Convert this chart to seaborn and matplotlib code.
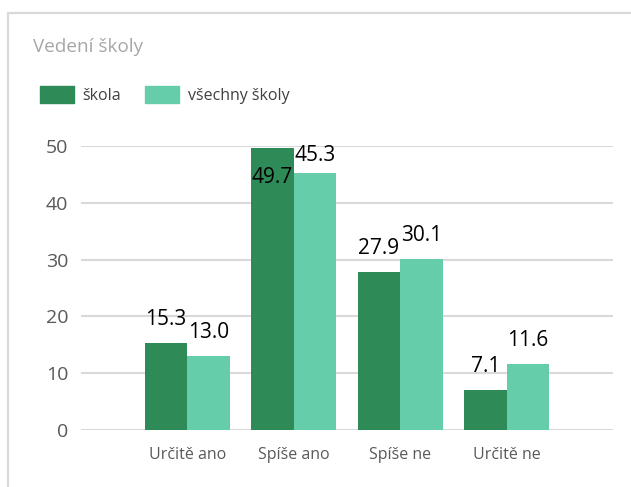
import pandas as pd
import seaborn as sns
import matplotlib.pyplot as plt
from matplotlib.patches import Rectangle
from matplotlib.lines import Line2D

categories = ["Určitě ano", "Spíše ano", "Spíše ne", "Určitě ne"]
series_names = ["škola", "všechny školy"]
skola = [15.3, 49.7, 27.9, 7.1]
vsechny = [13.0, 45.3, 30.1, 11.6]
yticks = [0, 10, 20, 30, 40, 50]

palette = ["#2E8B57", "#66CDAA"]
grid_col = "#d9d9d9"
text_col = "#595959"

df = pd.DataFrame({
    "Kategorie": categories * 2,
    "Hodnota": skola + vsechny,
    "Série": [series_names[0]] * 4 + [series_names[1]] * 4,
})

sns.set_theme(style="white")
plt.rcParams["font.family"] = ["Open Sans", "DejaVu Sans"]

fig = plt.figure(figsize=(6.31, 4.87), dpi=100)
ax = fig.add_axes([81 / 631, 1 - 430 / 487, (613 - 81) / 631, (430 - 146) / 487])

sns.barplot(data=df, x="Kategorie", y="Hodnota", hue="Série", palette=palette,
            width=0.8, gap=0, linewidth=0, saturation=1, ax=ax, legend=True)

ax.set_xlim(-1, 4)
ax.set_ylim(0, 50)
ax.set_yticks(yticks)
ax.set_xlabel("")
ax.set_ylabel("")
for s in ax.spines.values():
    s.set_visible(False)
ax.grid(False)
for t in yticks:
    ax.axhline(t, color=grid_col, lw=1.5, zorder=0)
ax.tick_params(axis="y", length=0, pad=9, labelsize=14, labelcolor=text_col)
ax.tick_params(axis="x", length=0, pad=12, labelsize=11.5, labelcolor=text_col)

# value labels (clamped inside the plot area like the original)
fig.canvas.draw()
px_per_unit = ax.bbox.height / 50.0
off = 18 / px_per_unit
txt_h = 15 / px_per_unit
for cont in ax.containers:
    for bar in cont:
        v = bar.get_height()
        xc = bar.get_x() + bar.get_width() / 2
        if v + txt_h > 50:
            ax.text(xc, v - 19 / px_per_unit, f"{v:.1f}", ha="center", va="top",
                    fontsize=15, color="black")
        else:
            yb = min(v + off, 50 - txt_h)
            ax.text(xc, yb, f"{v:.1f}", ha="center", va="baseline",
                    fontsize=15, color="black", clip_on=False)

ax.legend_.remove()
handles = [Rectangle((0, 0), 1, 1, color=c) for c in palette]
fig.legend(handles, series_names, loc="center left", bbox_to_anchor=(40 / 631, 1 - 95 / 487),
           ncol=2, frameon=False, fontsize=11.5, handlelength=2.1, handleheight=1.25,
           handletextpad=0.56, columnspacing=1.5, borderpad=0, borderaxespad=0,
           labelcolor="#404040")

fig.text(33 / 631, 1 - 52 / 487, "Vedení školy", fontsize=13.6, color="#a6a6a6",
         ha="left", va="baseline")

# card border (top and left)
fig.add_artist(Line2D([8 / 631, 1], [1 - 13 / 487] * 2, transform=fig.transFigure,
                      color=grid_col, lw=1.6))
fig.add_artist(Line2D([8 / 631] * 2, [0, 1 - 13 / 487], transform=fig.transFigure,
                      color=grid_col, lw=1.6))

fig.savefig("out.png", dpi=100)
